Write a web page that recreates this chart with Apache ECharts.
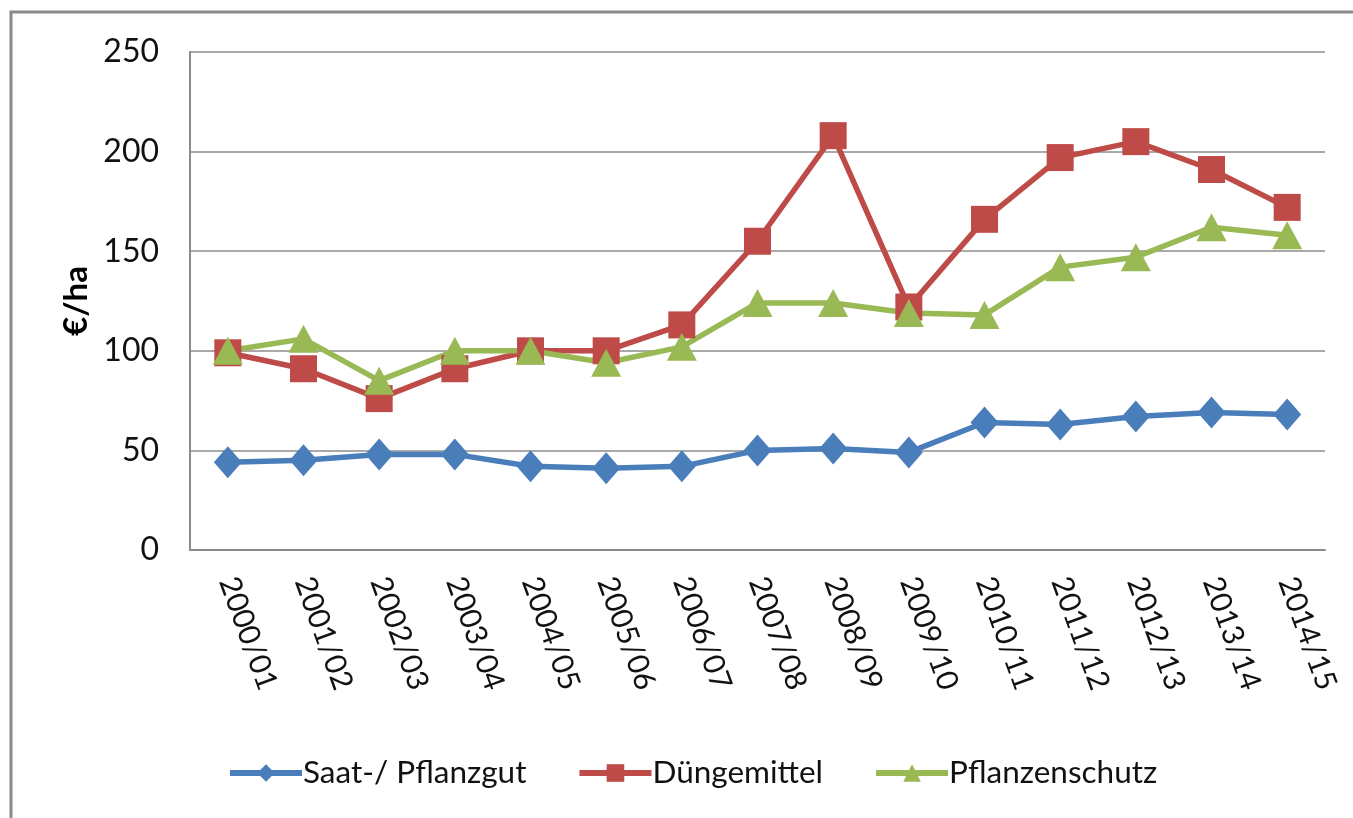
<!DOCTYPE html>
<html>
<head>
<meta charset="utf-8">
<script src="https://cdn.jsdelivr.net/npm/echarts@6/dist/echarts.min.js"></script>
<style>
  html, body { margin: 0; padding: 0; background: #fff; }
  #chart { width: 1353px; height: 818px; }
</style>
</head>
<body>
<div id="chart"></div>
<script>
// ── Data ─────────────────────────────────────────────────────────────────────
const years = ['2000/01', '2001/02', '2002/03', '2003/04', '2004/05', '2005/06', '2006/07',
               '2007/08', '2008/09', '2009/10', '2010/11', '2011/12', '2012/13', '2013/14', '2014/15'];
const saatgut    = [44, 45, 48, 48, 42, 41, 42, 50, 51, 49, 64, 63, 67, 69, 68];
const duenger    = [99, 91, 76, 91, 100, 100, 113, 155, 208, 122, 166, 197, 205, 191, 172];
const pflschutz  = [100, 106, 85, 100, 100, 94, 102, 124, 124, 119, 118, 142, 147, 162, 158];
const yTicks = { min: 0, max: 250, step: 50 };

const FONT = 'Lato, "Open Sans", sans-serif';

const chart = echarts.init(document.getElementById('chart'));

const mkSeries = (name, data, color, symbol, size) => ({
    name: name,
    type: 'line',
    data: data,
    symbol: symbol,
    symbolSize: size,
    lineStyle: { color: color, width: 5.5 },
    itemStyle: { color: color },
    animation: false
});

chart.setOption({
    backgroundColor: '#fff',
    graphic: [{
        type: 'rect',
        shape: { x: 11, y: 12, width: 1400, height: 900 },
        style: { fill: 'none', stroke: '#8a8a8a', lineWidth: 3 },
        silent: true
    }],
    grid: { left: 190, right: 28, top: 52, bottom: 268 },
    legend: {
        top: 752,
        left: 222,
        itemWidth: 72,
        itemHeight: 22,
        itemGap: 50,
        lineStyle: { width: 6 },
        textStyle: { fontFamily: FONT, fontSize: 31.5, color: '#111', padding: [0, 0, 0, -4] },
        data: ['Saat-/ Pflanzgut', 'Düngemittel', 'Pflanzenschutz']
    },
    xAxis: {
        type: 'category',
        data: years,
        boundaryGap: true,
        axisLine: { lineStyle: { color: '#8c8c8c', width: 2 } },
        axisTick: { show: false },
        axisLabel: {
            rotate: -70,
            margin: 28,
            interval: 0,
            fontFamily: FONT,
            fontSize: 30,
            color: '#111'
        }
    },
    yAxis: {
        type: 'value',
        min: yTicks.min,
        max: yTicks.max,
        interval: yTicks.step,
        name: '€/ha',
        nameLocation: 'middle',
        nameRotate: 90,
        nameGap: 90,
        nameTextStyle: { fontFamily: FONT, fontSize: 33, fontWeight: 'bold', color: '#000' },
        axisLine: { show: true, lineStyle: { color: '#8c8c8c', width: 2 } },
        axisTick: { show: false },
        splitLine: { lineStyle: { color: '#8c8c8c', width: 1.5 } },
        axisLabel: { margin: 31, fontFamily: FONT, fontSize: 32, color: '#111' }
    },
    series: [
        mkSeries('Saat-/ Pflanzgut', saatgut, '#4a7ebb', 'diamond', [28, 32]),
        mkSeries('Düngemittel', duenger, '#be4b48', 'rect', [27, 27]),
        mkSeries('Pflanzenschutz', pflschutz, '#98b954', 'triangle', [30, 28])
    ]
});
</script>
</body>
</html>
